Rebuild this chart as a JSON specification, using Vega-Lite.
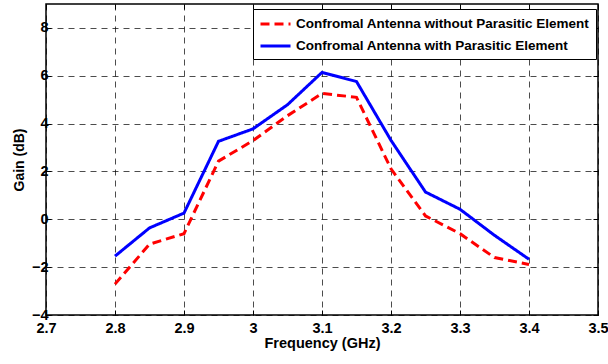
{
  "$schema": "https://vega.github.io/schema/vega-lite/v6.json",
  "width": 552,
  "height": 311,
  "autosize": {"type": "none"},
  "padding": {"left": 46, "top": 4, "right": 10, "bottom": 49},
  "background": "white",
  "config": {
    "view": {"stroke": "black", "strokeWidth": 1.5},
    "font": "Liberation Sans"
  },
  "data": {
    "values": [
      {"f": 2.8, "gain": -2.71, "series": "Confromal Antenna without Parasitic Element"},
      {"f": 2.85, "gain": -1.04, "series": "Confromal Antenna without Parasitic Element"},
      {"f": 2.9, "gain": -0.6, "series": "Confromal Antenna without Parasitic Element"},
      {"f": 2.95, "gain": 2.43, "series": "Confromal Antenna without Parasitic Element"},
      {"f": 3.0, "gain": 3.29, "series": "Confromal Antenna without Parasitic Element"},
      {"f": 3.05, "gain": 4.33, "series": "Confromal Antenna without Parasitic Element"},
      {"f": 3.1, "gain": 5.26, "series": "Confromal Antenna without Parasitic Element"},
      {"f": 3.15, "gain": 5.1, "series": "Confromal Antenna without Parasitic Element"},
      {"f": 3.2, "gain": 2.11, "series": "Confromal Antenna without Parasitic Element"},
      {"f": 3.25, "gain": 0.14, "series": "Confromal Antenna without Parasitic Element"},
      {"f": 3.3, "gain": -0.6, "series": "Confromal Antenna without Parasitic Element"},
      {"f": 3.35, "gain": -1.6, "series": "Confromal Antenna without Parasitic Element"},
      {"f": 3.4, "gain": -1.89, "series": "Confromal Antenna without Parasitic Element"},
      {"f": 2.8, "gain": -1.54, "series": "Confromal Antenna with Parasitic Element"},
      {"f": 2.85, "gain": -0.36, "series": "Confromal Antenna with Parasitic Element"},
      {"f": 2.9, "gain": 0.26, "series": "Confromal Antenna with Parasitic Element"},
      {"f": 2.95, "gain": 3.26, "series": "Confromal Antenna with Parasitic Element"},
      {"f": 3.0, "gain": 3.78, "series": "Confromal Antenna with Parasitic Element"},
      {"f": 3.05, "gain": 4.79, "series": "Confromal Antenna with Parasitic Element"},
      {"f": 3.1, "gain": 6.14, "series": "Confromal Antenna with Parasitic Element"},
      {"f": 3.15, "gain": 5.76, "series": "Confromal Antenna with Parasitic Element"},
      {"f": 3.2, "gain": 3.3, "series": "Confromal Antenna with Parasitic Element"},
      {"f": 3.25, "gain": 1.14, "series": "Confromal Antenna with Parasitic Element"},
      {"f": 3.3, "gain": 0.42, "series": "Confromal Antenna with Parasitic Element"},
      {"f": 3.35, "gain": -0.67, "series": "Confromal Antenna with Parasitic Element"},
      {"f": 3.4, "gain": -1.67, "series": "Confromal Antenna with Parasitic Element"}
    ]
  },
  "resolve": {"axis": {"x": "independent", "y": "independent"}},
  "layer": [
    {
      "mark": {"type": "line", "strokeWidth": 3, "clip": true},
      "encoding": {
        "x": {
          "field": "f", "type": "quantitative",
          "scale": {"domain": [2.7, 3.5], "nice": false, "zero": false},
          "axis": {
            "title": "Frequency (GHz)",
            "values": [2.7, 2.8, 2.9, 3.0, 3.1, 3.2, 3.3, 3.4, 3.5],
            "format": "~g",
            "grid": true, "gridColor": "black", "gridOpacity": 0.7, "gridDash": [6, 5], "gridWidth": 1,
            "domain": false,
            "tickColor": "black", "tickSize": -5, "tickWidth": 1,
            "labelFont": "Liberation Sans", "labelFontWeight": "bold", "labelFontSize": 14.5, "labelColor": "black",
            "labelPadding": 11, "labelFlush": false,
            "titleFont": "Liberation Sans", "titleFontWeight": "bold", "titleFontSize": 14.5, "titleColor": "black",
            "titlePadding": 2
          }
        },
        "y": {
          "field": "gain", "type": "quantitative",
          "scale": {"domain": [-4, 9], "nice": false, "zero": false},
          "axis": {
            "title": "Gain (dB)",
            "values": [-4, -2, 0, 2, 4, 6, 8],
            "grid": true, "gridColor": "black", "gridOpacity": 0.7, "gridDash": [6, 5], "gridWidth": 1,
            "domain": false,
            "tickColor": "black", "tickSize": -5, "tickWidth": 1,
            "labelFont": "Liberation Sans", "labelFontWeight": "bold", "labelFontSize": 14.5, "labelColor": "black",
            "labelPadding": 3,
            "titleFont": "Liberation Sans", "titleFontWeight": "bold", "titleFontSize": 14, "titleColor": "black",
            "titlePadding": 5
          }
        },
        "color": {
          "field": "series", "type": "nominal",
          "scale": {
            "domain": ["Confromal Antenna without Parasitic Element", "Confromal Antenna with Parasitic Element"],
            "range": ["#ff0000", "#0000ff"]
          },
          "legend": {
            "title": null,
            "orient": "none", "legendX": 207, "legendY": 5,
            "fillColor": "white", "strokeColor": "black", "padding": 6,
            "symbolType": "M-1,0H3", "symbolSize": 225, "symbolStrokeWidth": 3,
            "labelFont": "Liberation Sans", "labelFontWeight": "bold", "labelFontSize": 13.5, "labelColor": "black",
            "labelOffset": 19, "rowPadding": 6, "labelLimit": 400
          }
        },
        "strokeDash": {
          "field": "series", "type": "nominal",
          "scale": {
            "domain": ["Confromal Antenna without Parasitic Element", "Confromal Antenna with Parasitic Element"],
            "range": [[9, 5], [1, 0]]
          },
          "legend": null
        }
      }
    },
    {
      "mark": {"type": "line", "opacity": 0},
      "encoding": {
        "x": {
          "field": "f", "type": "quantitative",
          "scale": {"domain": [2.7, 3.5], "nice": false, "zero": false},
          "axis": {"orient": "top", "values": [2.7, 2.8, 2.9, 3.0, 3.1, 3.2, 3.3, 3.4, 3.5], "labels": false, "title": null, "grid": false, "domain": false, "tickColor": "black", "tickSize": -5}
        },
        "y": {
          "field": "gain", "type": "quantitative",
          "scale": {"domain": [-4, 9], "nice": false, "zero": false},
          "axis": {"orient": "right", "values": [-4, -2, 0, 2, 4, 6, 8], "labels": false, "title": null, "grid": false, "domain": false, "tickColor": "black", "tickSize": -5}
        }
      }
    }
  ]
}
